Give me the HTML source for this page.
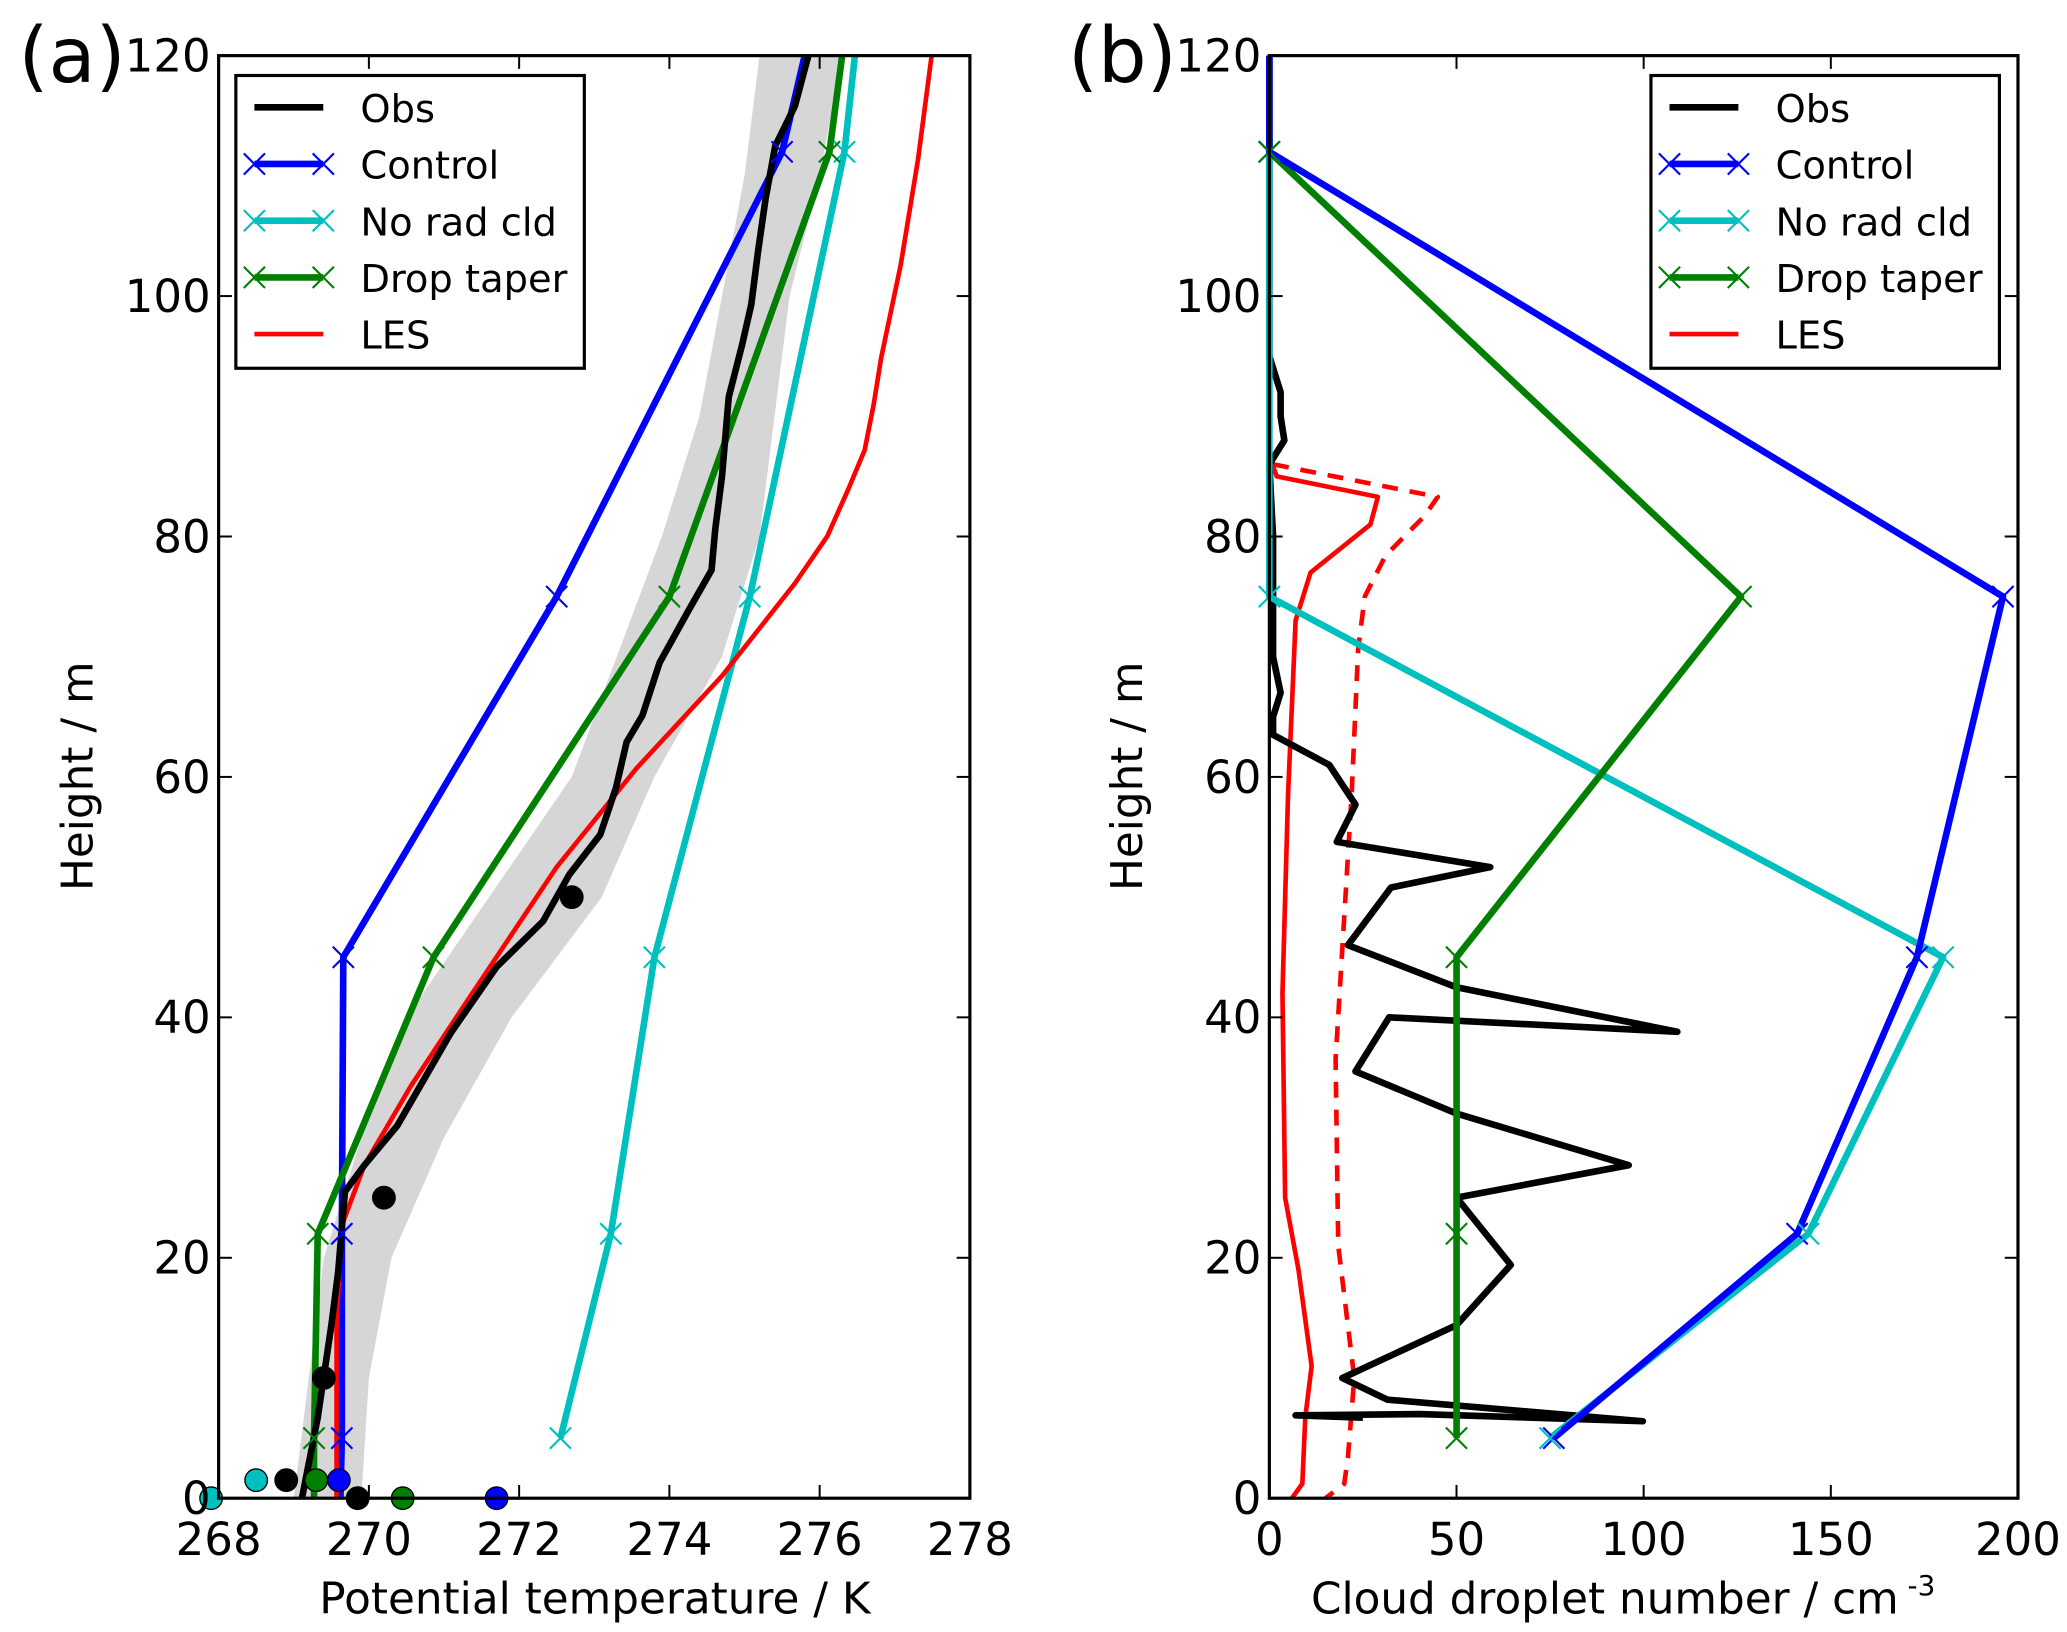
<!DOCTYPE html>
<html><head><meta charset="utf-8"><style>
html,body{margin:0;padding:0;background:#fff}
svg{display:block}
text{font-family:"DejaVu Sans","Liberation Sans",sans-serif;fill:#000}
</style></head><body>
<svg id="fig" xmlns="http://www.w3.org/2000/svg" width="2067" height="1632" viewBox="0 0 1560 1232" preserveAspectRatio="none">
<rect width="1560" height="1232" fill="#fff"/>
<g id="pa"></g>
<g id="pb"></g>
</svg>
<script>
// ---------- Panel (a) data ----------
const aXTicks = [268,270,272,274,276,278];
const yTicks = [0,20,40,60,80,100,120];
const markerH = [5,22,45,75,112];
const ctrlH = [0,5,22,45,75,112,120];
const ctrlT = [269.62,269.64,269.64,269.66,272.5,275.5,275.8];
const noradT = [null,272.55,273.22,273.8,275.07,276.33,276.47];
const taperT = [269.27,269.27,269.32,270.86,274.0,276.13,276.3];
const lesAH = [0,14.4,22.7,27.7,34.3,40.9,52.5,60.7,68.4,76.1,80,83.9,87.2,91,94.9,102.6,111.4,120];
const lesAT = [269.57,269.57,269.64,269.94,270.56,271.26,272.5,273.56,274.7,275.67,276.1,276.38,276.6,276.72,276.82,277.08,277.31,277.49];
const obsAH = [0,6.7,14.4,18.8,25.5,27.7,31,38.7,44.2,48,51.9,55.2,59.1,62.9,65.1,69.5,73.9,77.2,80.6,85,91.6,96,99.3,103.7,108.1,112.5,115.8,120];
const obsAT = [269.11,269.32,269.5,269.59,269.68,269.94,270.38,271.09,271.7,272.32,272.67,273.08,273.29,273.43,273.64,273.87,274.26,274.56,274.61,274.7,274.79,274.97,275.09,275.18,275.28,275.41,275.67,275.85];
const bandH = [0,10,20,30,40,50,60,70,80,90,100,110,120];
const bandLo = [269.0,269.2,269.4,269.9,270.5,271.6,272.7,273.3,273.9,274.4,274.7,275.0,275.2];
const bandHi = [269.9,270.0,270.3,271.0,271.9,273.1,273.8,274.7,275.2,275.4,275.6,276.0,276.3];
const dotsObsT = [269.85,268.9,269.4,270.2,272.7]; const dotsObsH = [0,1.5,10,25,50];
const dotsNoradT = [267.9,268.5]; const dotsNoradH = [0,1.5];
const dotsTaperT = [270.45,269.3]; const dotsTaperH = [0,1.5];
const dotsCtrlT = [271.7,269.6]; const dotsCtrlH = [0,1.5];
// ---------- Panel (b) data ----------
const bXTicks = [0,50,100,150,200];
const ctrlN = [0,0,196,173,141,76];
const noradN = [0,0,0,180,144,75];
const taperN = [0,0,126,50,50,50];
const simH = [120,112,75,45,22,5];
const obsBH = [120,95,92,90,88,86,80,70,67,65,63.5,61,57.7,54.6,52.5,50.8,46,42.5,38.8,40,35.5,32,27.7,25,19.4,14.4,10,8.2,6.4,7.0,6.9,6.7];
const obsBN = [0,0,3,3,4,0,1,1,3,1,1,16,23,18,59,32.5,21,50,109,32,23,50,96,50,64.5,50,19.5,31.5,99.8,40,7,25];
const lesBH = [86.6,85,83.3,81,77,73,58.5,42,25,19,11,6.7,1.2,0];
const lesBN = [0,2,29,27,11,7,5,3.5,4.2,7.8,11.3,9.6,8.8,6];
const lesDH = [86,83.3,81.7,78.4,75,70.6,58.5,36.5,21,10,3.4,1.2,0];
const lesDN = [1,45,41.4,31,25.5,23.7,22,17.7,18.4,22.7,21,20,15];

const NS='http://www.w3.org/2000/svg';
function el(parent,tag,attrs){const e=document.createElementNS(NS,tag);for(const k in attrs)e.setAttribute(k,attrs[k]);parent.appendChild(e);return e;}
const Y0=1131,Y1=42;
function yS(h){return Y0-(h/120)*(Y0-Y1);}
function mkX(l,r,a,b){return v=>l+(v-a)/(b-a)*(r-l);}
function path(xs,ys,xf){let d='';let first=true;for(let i=0;i<xs.length;i++){if(xs[i]===null)continue;d+=(first?'M':'L')+xf(xs[i]).toFixed(1)+','+yS(ys[i]).toFixed(1);first=false;}return d;}
function xmark(g,x,y,c,s){el(g,'path',{d:`M${x-s},${y-s}L${x+s},${y+s}M${x-s},${y+s}L${x+s},${y-s}`,stroke:c,'stroke-width':1.6,fill:'none'});}

function axes(g,L,R,xt,xf,name){
  const frame=el(g,'rect',{x:L,y:Y1,width:R-L,height:Y0-Y1,fill:'none',stroke:'#000','stroke-width':2.4});
  
  
  xt.forEach(v=>{const x=xf(v);
    el(g,'line',{x1:x,x2:x,y1:Y0,y2:Y0-10,stroke:'#000','stroke-width':1.5});
    el(g,'line',{x1:x,x2:x,y1:Y1,y2:Y1+10,stroke:'#000','stroke-width':1.5});
    const t=el(g,'text',{x:x,y:Y0+43,'font-size':34,'text-anchor':'middle'});t.textContent=v;
    
    });
  yTicks.forEach(v=>{const y=yS(v);
    el(g,'line',{x1:L,x2:L+10,y1:y,y2:y,stroke:'#000','stroke-width':1.5});
    el(g,'line',{x1:R,x2:R-10,y1:y,y2:y,stroke:'#000','stroke-width':1.5});
    const t=el(g,'text',{x:L-6,y:y+12,'font-size':34,'text-anchor':'end'});t.textContent=v;
    
    });
}
function legend(g,x0){
  const b=el(g,'rect',{x:x0,y:57,width:263,height:221,fill:'#fff',stroke:'#000','stroke-width':2.4});
  
  
  const items=[['Obs','#000',false,5],['Control','#0000ff',true,5],['No rad cld','#00bfbf',true,5],['Drop taper','#007f00',true,5],['LES','#ff0000',false,3.5]];
  items.forEach((it,i)=>{const y=81+i*42.8;
    const lg=el(g,'g',{});
    
    
    el(lg,'line',{x1:x0+14,x2:x0+66,y1:y,y2:y,stroke:it[1],'stroke-width':it[3]});
    if(it[2]){xmark(lg,x0+14,y,it[1],8);xmark(lg,x0+66,y,it[1],8);}
    const t=el(lg,'text',{x:x0+94,y:y+11,'font-size':29});t.textContent=it[0];});
}
function polyline(g,d,c,w,name,dash){const p=el(g,'path',{d:d,stroke:c,'stroke-width':w,fill:'none','stroke-linejoin':'round'});if(dash)p.setAttribute('stroke-dasharray',dash);
  
  return p;}

// Panel a
const ga=document.getElementById('pa');
const xa=mkX(165,732,268,278);
let bd='';bandH.forEach((h,i)=>{bd+=(i?'L':'M')+xa(bandLo[i])+','+yS(h);});
for(let i=bandH.length-1;i>=0;i--)bd+='L'+xa(bandHi[i])+','+yS(bandH[i]);
const band=el(ga,'path',{d:bd+'Z',fill:'#c8c8c8',opacity:0.75});


polyline(ga,path(ctrlT,ctrlH,xa),'#0000ff',5,'control-line-a');
polyline(ga,path(noradT,ctrlH,xa),'#00bfbf',5,'no-rad-cld-line-a');
polyline(ga,path(taperT,ctrlH,xa),'#007f00',5,'drop-taper-line-a');
polyline(ga,path(lesAT,lesAH,xa),'#ff0000',3.5,'les-line-a');
polyline(ga,path(obsAT,obsAH,xa),'#000',5,'obs-line-a');
ctrlH.forEach((h,i)=>{if(markerH.includes(h)){xmark(ga,xa(ctrlT[i]),yS(h),'#0000ff',8);xmark(ga,xa(noradT[i]),yS(h),'#00bfbf',8);xmark(ga,xa(taperT[i]),yS(h),'#007f00',8);}});
function dots(T,H,c,name){T.forEach((t,i)=>{const d=el(ga,'circle',{cx:xa(t),cy:yS(H[i]),r:8.5,fill:c,stroke:'#000','stroke-width':1});
  
  });}
dots(dotsNoradT,dotsNoradH,'#00bfbf','no-rad-cld-surface-dot');
dots(dotsTaperT,dotsTaperH,'#007f00','drop-taper-surface-dot');
dots(dotsCtrlT,dotsCtrlH,'#0000ff','control-surface-dot');
dots(dotsObsT,dotsObsH,'#000','obs-dot');
axes(ga,165,732,aXTicks,xa,'panel-a');
legend(ga,178);

// Panel b
const gb=document.getElementById('pb');
const xb=mkX(958,1523,0,200);
polyline(gb,path(lesBN,lesBH,xb),'#ff0000',3.5,'les-line-b');
polyline(gb,path(lesDN,lesDH,xb),'#ff0000',3.5,'les-dashed-line-b','12,9');
polyline(gb,path(obsBN,obsBH,xb),'#000',5,'obs-line-b');
polyline(gb,path(noradN,simH,xb),'#00bfbf',5,'no-rad-cld-line-b');
polyline(gb,path(taperN,simH,xb),'#007f00',5,'drop-taper-line-b');
polyline(gb,path(ctrlN,simH,xb),'#0000ff',5,'control-line-b');
simH.forEach((h,i)=>{if(markerH.includes(h)){xmark(gb,xb(ctrlN[i]),yS(h),'#0000ff',8);xmark(gb,xb(noradN[i]),yS(h),'#00bfbf',8);xmark(gb,xb(taperN[i]),yS(h),'#007f00',8);}});
axes(gb,958,1523,bXTicks,xb,'panel-b');
legend(gb,1246);

// labels
const svg=document.getElementById('fig');
function label(x,y,txt,size,rot,name,anchor){const t=el(svg,'text',{x:x,y:y,'font-size':size,'text-anchor':anchor||'middle'});if(rot)t.setAttribute('transform',`rotate(-90 ${x} ${y})`);t.textContent=txt;
  
  return t;}
label(70,586,'Height / m',33,true,'y-axis-title-a');
label(862,586,'Height / m',33,true,'y-axis-title-b');
label(449,1218,'Potential temperature / K',33,false,'x-axis-title-a');
const xt=label(1225,1218,'Cloud droplet number / cm',33,false,'x-axis-title-b');
const sup=el(svg,'tspan',{dy:-14,'font-size':21});sup.textContent=' -3';xt.appendChild(sup);
label(14,62,'(a)',58,false,'panel-a-label','start');
label(806,62,'(b)',58,false,'panel-b-label','start');
</script>
</body></html>
